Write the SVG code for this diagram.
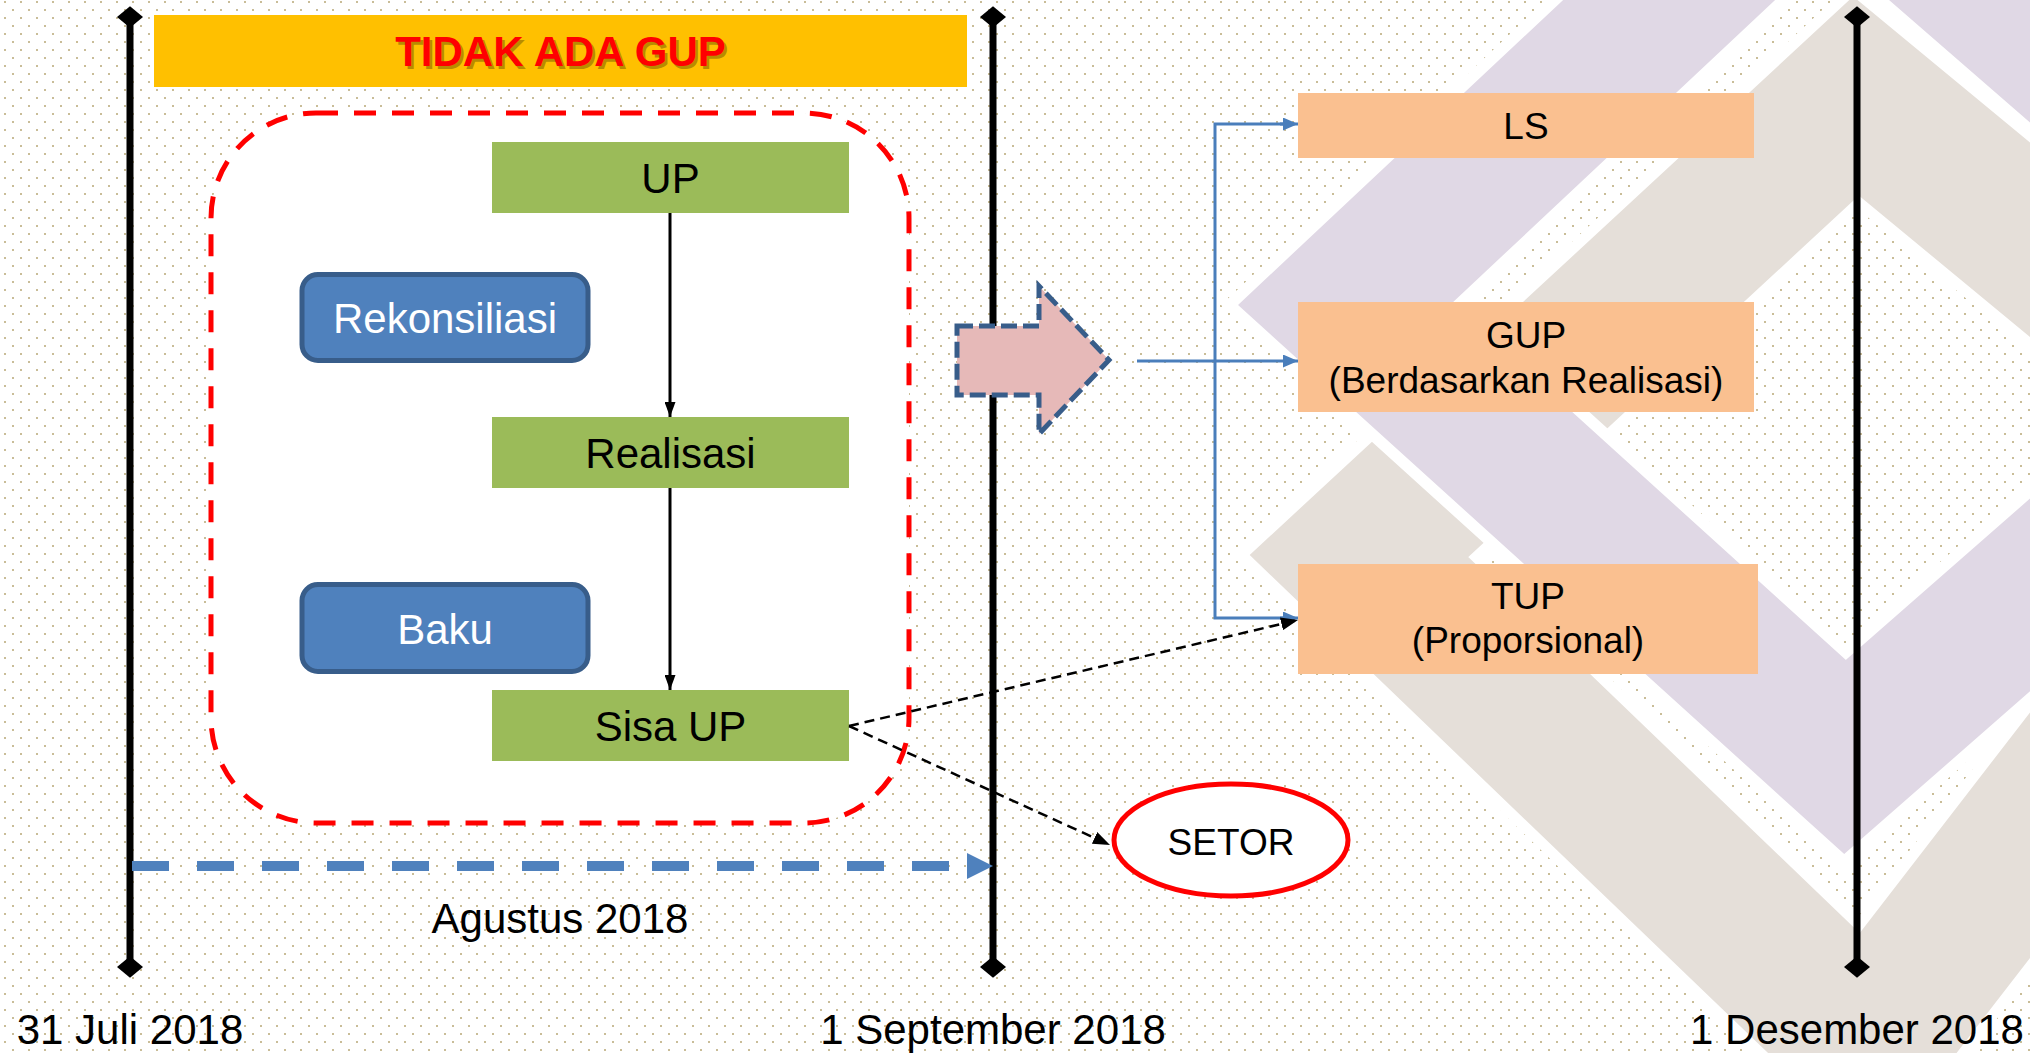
<svg xmlns="http://www.w3.org/2000/svg" width="2030" height="1053" viewBox="0 0 2030 1053">
<style>
.t{font-family:"Liberation Sans",Arial,sans-serif;text-anchor:middle}
.g{fill:#9BBB59}
.o{fill:#FAC090}
.b{fill:#4F81BD;stroke:#385D8A;stroke-width:5}
.tl{stroke:#000;stroke-width:7;fill:none;marker-start:url(#dia);marker-end:url(#dia)}
.blue{stroke:#4A7EBB;stroke-width:3;fill:none}
.dash{stroke:#000;stroke-width:2.5;stroke-dasharray:10 6;fill:none;marker-end:url(#ahk)}
</style>
<defs>
<pattern id="dots" width="16" height="16" patternUnits="userSpaceOnUse">
<rect x="12" y="9" width="2" height="2" fill="#C9BD98"/>
<rect x="4" y="1" width="2" height="2" fill="#C9BD98"/>
</pattern>
<marker id="dia" markerUnits="userSpaceOnUse" markerWidth="24" markerHeight="26" refX="10" refY="12" orient="auto" viewBox="0 0 20 24">
<path d="M0,12 L10,0 L20,12 L10,24 Z" fill="#000"/>
</marker>
<marker id="ahs" markerUnits="userSpaceOnUse" markerWidth="15" markerHeight="11" refX="15" refY="5.5" orient="auto" viewBox="0 0 15 11">
<path d="M0,0 L15,5.5 L0,11 Z" fill="#000"/>
</marker>
<marker id="ahb" markerUnits="userSpaceOnUse" markerWidth="15" markerHeight="13" refX="15" refY="6.5" orient="auto" viewBox="0 0 15 13">
<path d="M0,0 L15,6.5 L0,13 Z" fill="#4A7EBB"/>
</marker>
<marker id="ahk" markerUnits="userSpaceOnUse" markerWidth="17" markerHeight="13" refX="17" refY="6.5" orient="auto" viewBox="0 0 17 13">
<path d="M0,0 L17,6.5 L0,13 Z" fill="#000"/>
</marker>
</defs>

<g id="background">
<rect width="2030" height="1053" fill="#FFFFFF"/>
<rect width="2030" height="1053" fill="url(#dots)"/>
<g fill="none" stroke-linejoin="miter" stroke-miterlimit="10">
<polyline points="2200,380 1856,96 1359,556 1868,1045 2200,615" stroke="#FFFFFF" stroke-width="172"/>
<polyline points="2200,380 1856,96 1359,556 1868,1045 2200,615" stroke="#E5DFD9" stroke-width="150"/>
<polyline points="2200,174 1828,-149 1345,304 1845,757 2200,446" stroke="#FFFFFF" stroke-width="168"/>
<polyline points="2200,174 1828,-149 1345,304 1845,757 2200,446" stroke="#E0D8E5" stroke-width="145"/>
</g>
</g>

<g id="timeline">
<line class="tl" x1="130" y1="17" x2="130" y2="967"/>
<line class="tl" x1="993" y1="17" x2="993" y2="967"/>
<line class="tl" x1="1857" y1="17" x2="1857" y2="967"/>
<line x1="132" y1="866" x2="967" y2="866" stroke="#4F81BD" stroke-width="10" stroke-dasharray="37 28"/>
<polygon points="967,853 993,866 967,879" fill="#4F81BD"/>
<text class="t" x="130" y="1044" font-size="42">31 Juli 2018</text>
<text class="t" x="993" y="1044" font-size="42">1 September 2018</text>
<text class="t" x="1857" y="1044" font-size="42">1 Desember 2018</text>
<text class="t" x="560" y="933" font-size="42">Agustus 2018</text>
</g>

<g id="title">
<rect x="154" y="15" width="813" height="72" fill="#FFC000"/>
<text class="t" x="563" y="68.5" font-size="42" font-weight="bold" fill="#7F6000" opacity="0.55">TIDAK ADA GUP</text>
<text class="t" x="560.5" y="66" font-size="42" font-weight="bold" fill="#FF0000">TIDAK ADA GUP</text>
</g>

<g id="group-box">
<rect x="211" y="113" width="698" height="710" rx="105" ry="105" fill="#FFFFFF" stroke="#FF0000" stroke-width="5" stroke-dasharray="22 16"/>
</g>

<g id="node-up">
<rect class="g" x="492" y="142" width="357" height="71"/>
<text class="t" x="670.5" y="192.5" font-size="42">UP</text>
</g>
<g id="node-realisasi">
<rect class="g" x="492" y="417" width="357" height="71"/>
<text class="t" x="670.5" y="467.5" font-size="42">Realisasi</text>
</g>
<g id="node-sisa-up">
<rect class="g" x="492" y="690" width="357" height="71"/>
<text class="t" x="670.5" y="740.5" font-size="42">Sisa UP</text>
</g>
<g id="node-rekonsiliasi">
<rect class="b" x="302" y="274.5" width="286" height="86" rx="16"/>
<text class="t" x="445" y="332.5" font-size="42" fill="#FFFFFF">Rekonsiliasi</text>
</g>
<g id="node-baku">
<rect class="b" x="302" y="584.5" width="286" height="87" rx="16"/>
<text class="t" x="445" y="643.5" font-size="42" fill="#FFFFFF">Baku</text>
</g>

<g id="node-arrow">
<polygon points="957,326 1039,326 1039,286 1109,360 1039,434 1039,395 957,395" fill="#E6B9B8" stroke="#385D8A" stroke-width="5" stroke-dasharray="16 6"/>
</g>

<g id="node-ls">
<rect class="o" x="1298" y="93" width="456" height="65"/>
<text class="t" x="1526" y="139" font-size="37">LS</text>
</g>
<g id="node-gup">
<rect class="o" x="1298" y="302" width="456" height="110"/>
<text class="t" x="1526" y="348" font-size="37">GUP</text>
<text class="t" x="1526" y="393" font-size="37">(Berdasarkan Realisasi)</text>
</g>
<g id="node-tup">
<rect class="o" x="1298" y="564" width="460" height="110"/>
<text class="t" x="1528" y="609" font-size="37">TUP</text>
<text class="t" x="1528" y="653" font-size="37">(Proporsional)</text>
</g>
<g id="node-setor">
<ellipse cx="1231" cy="840" rx="117" ry="56" fill="#FFFFFF" stroke="#FF0000" stroke-width="5"/>
<text class="t" x="1231" y="855" font-size="37">SETOR</text>
</g>

<g id="connectors">
<line x1="670" y1="213" x2="670" y2="417" stroke="#000" stroke-width="3" marker-end="url(#ahs)"/>
<line x1="670" y1="488" x2="670" y2="690" stroke="#000" stroke-width="3" marker-end="url(#ahs)"/>
<line class="blue" x1="1137" y1="361" x2="1298" y2="361" marker-end="url(#ahb)"/>
<polyline class="blue" points="1285,124 1215,124 1215,618 1285,618"/>
<line class="blue" x1="1280" y1="124" x2="1298" y2="124" marker-end="url(#ahb)"/>
<line class="blue" x1="1280" y1="618" x2="1298" y2="618" marker-end="url(#ahb)"/>
<line class="dash" x1="849" y1="726" x2="1298" y2="620"/>
<line class="dash" x1="849" y1="726" x2="1110" y2="845"/>
</g>
</svg>
